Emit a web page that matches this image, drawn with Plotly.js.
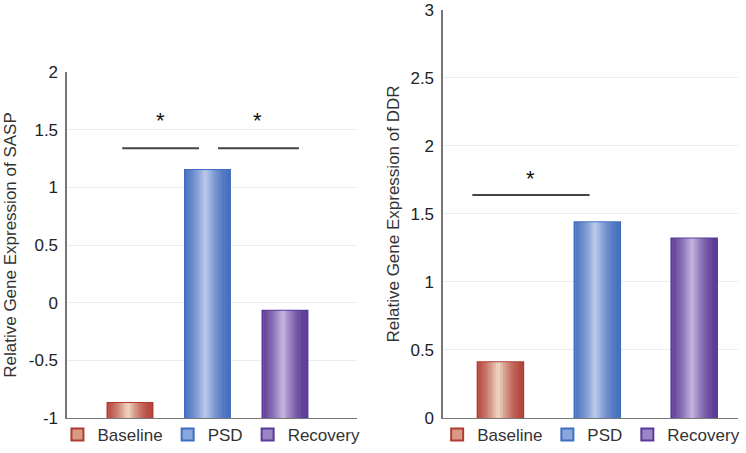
<!DOCTYPE html>
<html>
<head>
<meta charset="utf-8">
<script src="https://cdn.plot.ly/plotly-3.0.1.min.js"></script>
<style>
  html, body { margin: 0; padding: 0; background: #fff; }
  #chart { width: 746px; height: 453px; }
</style>
</head>
<body>
<div id="chart"></div>
<script>
// groups shared by both panels
const GROUPS = ['Baseline', 'PSD', 'Recovery'];

// left panel: SASP
const SASP_VALUES = [-0.87, 1.15, -0.07];
const SASP_BASE = -1;
const SASP_TICKS = [-1, -0.5, 0, 0.5, 1, 1.5, 2];
const SASP_TICKTEXT = ['-1', '-0.5', '0', '0.5', '1', '1.5', '2'];

// right panel: DDR
const DDR_VALUES = [0.41, 1.44, 1.32];
const DDR_TICKS = [0, 0.5, 1, 1.5, 2, 2.5, 3];
const DDR_TICKTEXT = ['0', '0.5', '1', '1.5', '2', '2.5', '3'];

// edge / centre / border colours for the shaded bars
const GROUP_STYLE = {
    Baseline: { edge: [181, 70, 60], mid: [240, 220, 200], border: '#b03a34', swatch: '#d99a84' },
    PSD: { edge: [72, 112, 190], mid: [190, 205, 236], border: '#3f6fc4', swatch: '#8aa6dc' },
    Recovery: { edge: [92, 60, 150], mid: [200, 185, 225], border: '#5a3a9a', swatch: '#9a86c4' },
};

const FONT = { family: 'Liberation Sans, Arial, sans-serif', color: '#222' };
const STRIPS = 18;

function mix(a, b, t) {
    const c = a.map((v, i) => Math.round(v + (b[i] - v) * t));
    return `rgb(${c[0]},${c[1]},${c[2]})`;
}

// cylinder-like shading: one outline bar + thin strips on top
function shadedBars(values, base, barW, xa, ya, legendName) {
    const traces = [];
    GROUPS.forEach((g, gi) => {
        const st = GROUP_STYLE[g];
        traces.push({
            type: 'bar', x: [g], y: [values[gi] - base], base: base,
            width: barW, xaxis: xa, yaxis: ya, name: g, legend: legendName,
            marker: { color: st.swatch, line: { color: st.border, width: 2 } },
            hoverinfo: 'skip',
        });
        const inner = barW * 0.96;
        for (let i = 0; i < STRIPS; i++) {
            const pos = (i + 0.5) / STRIPS;          // 0..1 across the bar
            const t = Math.pow(1 - Math.abs(pos - 0.45) / 0.55, 1.6);
            traces.push({
                type: 'bar', x: [g], y: [values[gi] - base], base: base,
                width: inner / STRIPS * 1.15,
                offset: -inner / 2 + i * inner / STRIPS,
                xaxis: xa, yaxis: ya, showlegend: false,
                marker: { color: mix(st.edge, st.mid, Math.max(0, t)), line: { width: 0 } },
                hoverinfo: 'skip',
            });
        }
    });
    return traces;
}

const traces = [
    ...shadedBars(SASP_VALUES, SASP_BASE, 0.58, 'x', 'y', 'legend'),
    ...shadedBars(DDR_VALUES, 0, 0.47, 'x2', 'y2', 'legend2'),
];

const axisLine = { showline: true, linecolor: '#777', linewidth: 1.5, ticks: '', zeroline: false };
const legendBase = {
    orientation: 'h', xanchor: 'left', yanchor: 'bottom', y: 0,
    font: { ...FONT, size: 17, color: '#333' }, itemwidth: 30, tracegroupgap: 0,
    bgcolor: 'rgba(0,0,0,0)',
};

// significance brackets
const sig = (xa, ya, x0, x1, yLine) => ({
    type: 'line', xref: xa, yref: ya, x0: x0, x1: x1, y0: yLine, y1: yLine,
    line: { color: '#444', width: 2 },
});
const star = (xa, ya, x, y) => ({
    xref: xa, yref: ya, x: x, y: y, text: '*', showarrow: false,
    font: { ...FONT, size: 22, color: '#111' },
});

const yTitleFont = { ...FONT, size: 17, color: '#333' };

const layout = {
    width: 746, height: 453,
    paper_bgcolor: '#fff', plot_bgcolor: '#fff',
    font: FONT,
    barmode: 'overlay',
    margin: { l: 0, r: 0, t: 0, b: 0 },
    xaxis: {
        ...axisLine, domain: [0.0898, 0.4786], range: [-0.813, 2.93],
        showticklabels: false, showgrid: false, fixedrange: true,
    },
    yaxis: {
        ...axisLine, domain: [0.0773, 0.841], range: [-1, 2],
        tickvals: SASP_TICKS, ticktext: SASP_TICKTEXT,
        tickfont: { ...FONT, size: 17 }, ticklabelstandoff: 4, ticklabeloverflow: 'allow',
        showgrid: true, gridcolor: '#ececec', gridwidth: 1,
        title: { text: 'Relative Gene Expression of SASP', font: yTitleFont, standoff: 8 },
    },
    xaxis2: {
        ...axisLine, domain: [0.5938, 0.989], range: [-0.593, 2.45],
        showticklabels: false, showgrid: false, fixedrange: true, anchor: 'y2',
    },
    yaxis2: {
        ...axisLine, domain: [0.0773, 0.978], range: [0, 3], anchor: 'x2',
        tickvals: DDR_TICKS, ticktext: DDR_TICKTEXT,
        tickfont: { ...FONT, size: 17 }, ticklabelstandoff: 4, ticklabeloverflow: 'allow',
        showgrid: true, gridcolor: '#ececec', gridwidth: 1,
        title: { text: 'Relative Gene Expression of DDR', font: yTitleFont, standoff: 6 },
    },
    legend: { ...legendBase, x: 0.077 },
    legend2: { ...legendBase, x: 0.586 },
    shapes: [
        sig('x', 'y', -0.10, 0.89, 1.34),
        sig('x', 'y', 1.135, 2.18, 1.34),
        sig('x2', 'y2', -0.29, 0.92, 1.64),
    ],
    annotations: [
        star('x', 'y', 0.39, 1.58),
        star('x', 'y', 1.65, 1.58),
        star('x2', 'y2', 0.31, 1.76),
    ],
};

Plotly.newPlot('chart', traces, layout, { displayModeBar: false, staticPlot: true });
</script>
</body>
</html>
